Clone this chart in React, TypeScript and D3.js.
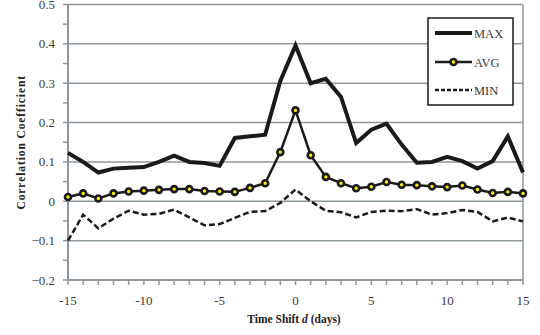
import React from "react";
import * as d3 from "d3";

const shifts = d3.range(-15, 16);
const maxValues = [0.123, 0.1, 0.073, 0.083, 0.085, 0.087, 0.1, 0.116, 0.1, 0.097, 0.09, 0.161, 0.165, 0.169, 0.306, 0.396, 0.3, 0.311, 0.265, 0.148, 0.182, 0.197, 0.144, 0.098, 0.1, 0.113, 0.102, 0.083, 0.102, 0.165, 0.073];
const avgValues = [0.011, 0.02, 0.007, 0.02, 0.025, 0.027, 0.029, 0.031, 0.031, 0.026, 0.025, 0.024, 0.034, 0.046, 0.125, 0.231, 0.117, 0.062, 0.046, 0.033, 0.037, 0.049, 0.042, 0.041, 0.038, 0.036, 0.04, 0.03, 0.021, 0.024, 0.02];
const minValues = [-0.1, -0.034, -0.069, -0.044, -0.024, -0.034, -0.032, -0.021, -0.041, -0.061, -0.058, -0.042, -0.027, -0.025, -0.004, 0.03, 0.0, -0.024, -0.028, -0.041, -0.027, -0.024, -0.025, -0.02, -0.034, -0.03, -0.022, -0.027, -0.051, -0.041, -0.051];
const xTickLabels = [-15, -10, -5, 0, 5, 10, 15];
const yTickLabels = [-0.2, -0.1, 0, 0.1, 0.2, 0.3, 0.4, 0.5];
const legendItems = ["MAX", "AVG", "MIN"];

export default function App() {
  const W = 540, H = 335;
  const left = 68, right = 523, top = 4.5, bottom = 280;
  const x = d3.scaleLinear().domain([-15, 15]).range([left, right]);
  const y = d3.scaleLinear().domain([-0.2, 0.5]).range([bottom, top]);
  const grid = "#8e979e";
  const textColor = "#3a3a3a";
  const font = "Liberation Serif, serif";

  const line = d3.line<number>().x((_, i) => x(shifts[i])).y((v) => y(v));
  const minorY = d3.range(-0.2, 0.5001, 0.05);

  const legendX = 428, legendY = 18;
  const rowY = [33, 62, 90];

  return (
    <svg width={W} height={H} style={{ position: "fixed", left: 0, top: 0, background: "#fff", fontFamily: font }}>
      <rect x={0} y={0} width={W} height={H} fill="#fff" />
      {yTickLabels.map((t) => (
        <line key={"g" + t} x1={left} x2={right} y1={y(t)} y2={y(t)} stroke={grid} strokeWidth={1.5} />
      ))}
      <line x1={right} x2={right} y1={top} y2={bottom} stroke={grid} strokeWidth={1.5} />
      <line x1={left} x2={left} y1={top - 0.5} y2={bottom + 0.5} stroke={grid} strokeWidth={2} />
      <line x1={left} x2={right} y1={bottom} y2={bottom} stroke={grid} strokeWidth={2} />
      {minorY.map((t, i) => (
        <line key={"my" + i} x1={left - 5} x2={left} y1={y(t)} y2={y(t)} stroke={grid} strokeWidth={1.5} />
      ))}
      {shifts.map((d) => (
        <line key={"mx" + d} x1={x(d)} x2={x(d)} y1={bottom} y2={bottom + 5} stroke={grid} strokeWidth={1.5} />
      ))}
      {yTickLabels.map((t) => (
        <text key={"yl" + t} x={55} y={y(t) + 4.5} textAnchor="end" fontSize={13} fill={textColor}>
          {t === 0 ? "0" : d3.format(".1f")(t)}
        </text>
      ))}
      {xTickLabels.map((t) => (
        <text key={"xl" + t} x={x(t)} y={305} textAnchor="middle" fontSize={13} fill={textColor}>
          {t}
        </text>
      ))}
      <text transform={`translate(25,${(top + bottom) / 2}) rotate(-90)`} textAnchor="middle" fontSize={11.5} fontWeight="bold" letterSpacing={0.9} fill="#222">
        Correlation Coefficient
      </text>
      <text x={294} y={323} textAnchor="middle" fontSize={11.5} fontWeight="bold" fill="#222">
        Time Shift <tspan fontStyle="italic">d</tspan> (days)
      </text>

      <path d={line(minValues) || ""} fill="none" stroke="#1a1a1a" strokeWidth={2.5} strokeDasharray="6,3" />
      <path d={line(maxValues) || ""} fill="none" stroke="#1a1a1a" strokeWidth={4} strokeLinejoin="miter" />
      <path d={line(avgValues) || ""} fill="none" stroke="#1a1a1a" strokeWidth={2.5} />
      {avgValues.map((v, i) => (
        <circle key={"c" + i} cx={x(shifts[i])} cy={y(v)} r={3} fill="#ffee00" stroke="#1a1a1a" strokeWidth={2.6} />
      ))}

      <rect x={legendX} y={legendY} width={85} height={87} fill="#fff" stroke="#1a1a1a" strokeWidth={1.5} />
      {legendItems.map((name, i) => (
        <g key={name}>
          {name === "MAX" && <line x1={435} x2={472} y1={rowY[i]} y2={rowY[i]} stroke="#1a1a1a" strokeWidth={4} />}
          {name === "AVG" && (
            <g>
              <line x1={435} x2={472} y1={rowY[i]} y2={rowY[i]} stroke="#1a1a1a" strokeWidth={2.5} />
              <circle cx={453.5} cy={rowY[i]} r={3} fill="#ffee00" stroke="#1a1a1a" strokeWidth={2.6} />
            </g>
          )}
          {name === "MIN" && <line x1={435} x2={472} y1={rowY[i]} y2={rowY[i]} stroke="#1a1a1a" strokeWidth={2.5} strokeDasharray="4,2" />}
          <text x={474} y={rowY[i] + 4.5} fontSize={12.5} fill={textColor}>{name}</text>
        </g>
      ))}
    </svg>
  );
}
